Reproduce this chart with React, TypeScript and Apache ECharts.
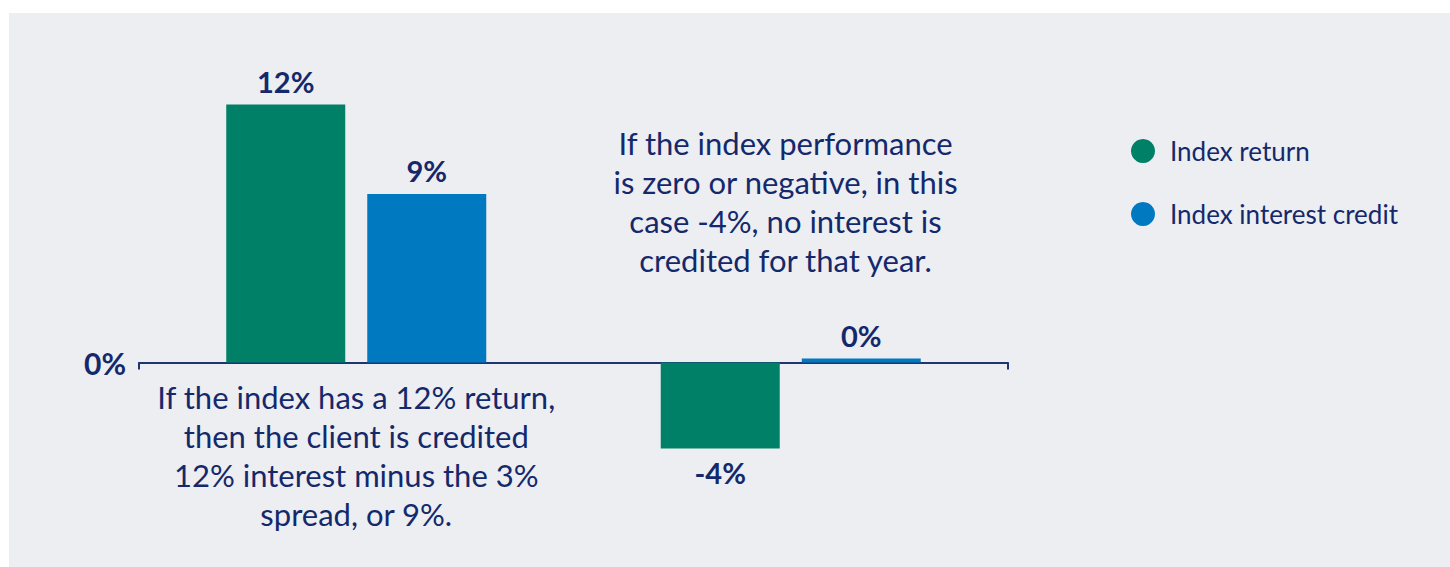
import React, { useEffect, useRef } from "react";
import * as echarts from "echarts";

// ---- data ----
const categories = [
  "If the index has a 12% return,\nthen the client is credited\n12% interest minus the 3%\nspread, or 9%.",
  "",
];
const seriesNames = ["Index return", "Index interest credit"];
const indexReturn = [12, -4];
// bar heights as drawn in the reference (the credit bar for year 1 is drawn shorter than its label)
const interestCredit = [7.84, 0];
const indexReturnLabels = ["12%", "-4%"];
const interestCreditLabels = ["9%", "0%"];
const annotation2 =
  "If the index performance\nis zero or negative, in this\ncase -4%, no interest is\ncredited for that year.";
const yMin = -8;
const yMax = 14;
const yInterval = 2;

const NAVY = "#14296b";
const GREEN = "#008066";
const BLUE = "#0079c1";
const BG = "#edeef2";
const FONT = "Lato";

function makeData(values: number[], labels: string[]) {
  return values.map((v, i) => ({
    value: v,
    label: {
      formatter: labels[i],
      position: v < 0 ? "bottom" : "top",
    },
  }));
}

export default function App() {
  const ref = useRef<HTMLDivElement>(null);
  useEffect(() => {
    if (!ref.current) return;
    const chart = echarts.init(ref.current, undefined, { renderer: "svg" });
    const labelStyle = {
      show: true,
      color: NAVY,
      fontFamily: FONT,
      fontWeight: "bold" as const,
      fontSize: 29,
      distance: 9,
    };
    chart.setOption({
      animation: false,
      backgroundColor: BG,
      textStyle: { fontFamily: FONT },
      grid: {
        left: 130,
        right: 442,
        top: 48.5,
        bottom: 32.5,
        containLabel: false,
        outerBoundsMode: "none",
      },
      legend: {
        orient: "vertical",
        left: 1117,
        top: 120,
        icon: "circle",
        itemWidth: 24,
        itemHeight: 24,
        itemGap: 37,
        textStyle: { color: NAVY, fontSize: 26, fontFamily: FONT, padding: [0, 0, 0, 10] },
        data: seriesNames,
      },
      xAxis: {
        type: "category",
        data: categories,
        axisLine: { lineStyle: { color: "#1d3572", width: 2 } },
        axisTick: { show: true, length: 7, lineStyle: { color: "#1d3572", width: 2 } },
        axisLabel: {
          color: NAVY,
          fontFamily: FONT,
          fontSize: 31,
          lineHeight: 39,
          margin: -157,
          align: "center",
        },
        splitLine: { show: false },
      },
      yAxis: {
        type: "value",
        min: yMin,
        max: yMax,
        interval: yInterval,
        axisLine: { show: false },
        axisTick: { show: false },
        splitLine: { show: false },
        axisLabel: {
          margin: 13,
          color: NAVY,
          fontFamily: FONT,
          fontWeight: "bold",
          fontSize: 30,
          padding: [27, 0, 0, 0],
          formatter: (v: number) => (v === 0 ? "0%" : ""),
        },
      },
      series: [
        {
          name: seriesNames[0],
          type: "bar",
          barWidth: 119,
          barGap: "18.5%",
          barMinHeight: 4,
          itemStyle: { color: GREEN },
          label: labelStyle,
          data: makeData(indexReturn, indexReturnLabels),
        },
        {
          name: seriesNames[1],
          type: "bar",
          barWidth: 119,
          barGap: "18.5%",
          barMinHeight: 4,
          itemStyle: { color: BLUE },
          label: labelStyle,
          data: makeData(interestCredit, interestCreditLabels),
        },
      ],
      graphic: [
        {
          type: "text",
          x: 776.5,
          y: 110.5,
          style: {
            text: annotation2,
            fill: NAVY,
            fontSize: 31,
            fontFamily: FONT,
            lineHeight: 39,
            textAlign: "center",
            textVerticalAlign: "top",
          },
        },
      ],
    });
    return () => chart.dispose();
  }, []);
  return (
    <div style={{ position: "fixed", left: 0, top: 0, width: 1450, height: 567, background: "#ffffff" }}>
      <div ref={ref} style={{ position: "absolute", left: 9, top: 13, width: 1441, height: 554 }} />
    </div>
  );
}
